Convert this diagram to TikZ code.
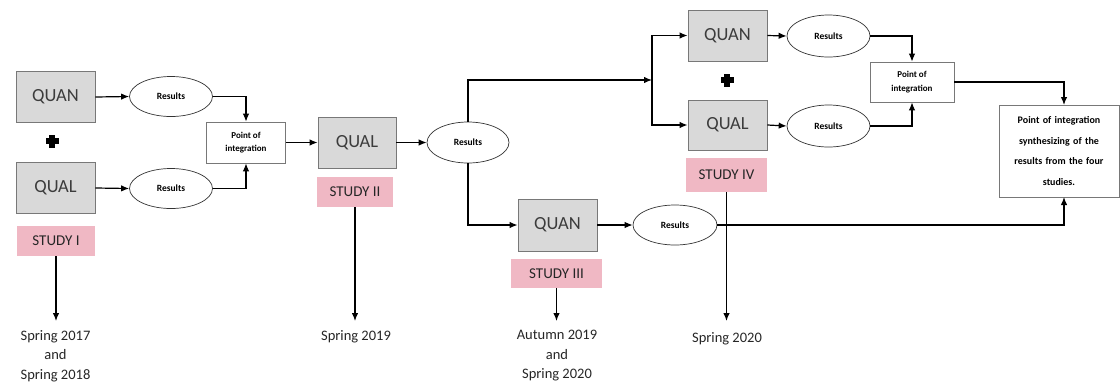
\documentclass[tikz,border=0pt]{standalone}
\usepackage{fontspec}
\setmainfont{Carlito}
\usetikzlibrary{arrows.meta,shapes.geometric}
\definecolor{boxgray}{RGB}{217,217,217}
\definecolor{boxedge}{RGB}{120,120,120}
\definecolor{studypink}{RGB}{240,184,196}
\definecolor{inktext}{RGB}{60,60,60}
\begin{document}
\begin{tikzpicture}[x=1pt,y=-1pt,
  method/.style={draw=boxedge, line width=0.8pt, fill=boxgray, minimum width=79pt,
    minimum height=51pt, inner sep=0pt, text=inktext, font=\fontsize{18.5}{18.5}\selectfont},
  study/.style={fill=studypink, minimum width=78pt, minimum height=30pt, inner sep=0pt,
    text=black!85, font=\fontsize{15}{15}\selectfont},
  res/.style={ellipse, draw=black!80, line width=0.7pt, fill=white, minimum width=83pt,
    minimum height=40pt, inner sep=0pt, font=\bfseries\fontsize{9.5}{10}\selectfont},
  poi/.style={draw=boxedge, line width=0.7pt, fill=white, minimum width=79pt,
    minimum height=41pt, inner sep=0pt, align=center,
    font=\bfseries\fontsize{9}{13.5}\selectfont},
  finbox/.style={draw=boxedge, line width=0.7pt, fill=white, minimum width=120pt,
    minimum height=92pt, inner sep=0pt, align=center, text width=116pt,
    font=\bfseries\fontsize{10}{20.5}\selectfont},
  datelbl/.style={align=center, inner sep=0pt, text=black!85,
    font=\fontsize{14.5}{19.5}\selectfont},
  arr/.style={-{Latex[length=8pt,width=6.5pt]}, line width=1.2pt},
  plussign/.pic={\fill (-6.5,-2.6) rectangle (6.5,2.6); \fill (-2.6,-6.5) rectangle (2.6,6.5);}
]
\useasboundingbox (0,0) rectangle (1120,389);

% Study I
\node[method] (q1) at (55.5,97) {QUAN};
\node[method] (l1) at (55.5,188) {QUAL};
\node[study]  (s1) at (56,241) {STUDY I};
\pic at (52,141) {plussign};
\node[res] (r1a) at (171,96.5) {Results};
\node[res] (r1b) at (171,188.5) {Results};
\node[poi] (p1) at (246,142.5) {Point of\\integration};
\draw[arr] (q1.east) -- (r1a.west);
\draw[arr] (l1.east) -- (r1b.west);
\draw[arr] (r1a.east) -| (p1.north);
\draw[arr] (r1b.east) -| (p1.south);

% Study II
\node[method, minimum width=78pt] (q2) at (357,142.5) {QUAL};
\node[study, minimum width=76pt] (s2) at (355,192) {STUDY II};
\node[res, minimum width=82pt, minimum height=41pt] (r2) at (468,142.5) {Results};
\draw[arr] (p1.east) -- (q2.west);
\draw[arr] (q2.east) -- (r2.west);

% Study III
\node[method, minimum height=52pt] (q3) at (557.5,225) {QUAN};
\node[study, minimum width=91pt, minimum height=29pt] (s3) at (556.5,273.5) {STUDY III};
\node[res, minimum width=84pt] (r3) at (675,225) {Results};
\draw[arr] (r2.south) |- (q3.west);
\draw[arr] (q3.east) -- (r3.west);

% Study IV
\node[method] (q4) at (727.5,35.5) {QUAN};
\node[method, minimum height=50pt] (l4) at (727.5,125) {QUAL};
\node[study, minimum width=81pt, minimum height=34pt] (s4) at (726.5,175) {STUDY IV};
\pic at (727,80) {plussign};
\node[res, minimum height=42pt] (r4a) at (828.5,36) {Results};
\node[res, minimum height=42pt] (r4b) at (828.5,126) {Results};
\node[poi, minimum width=84pt, minimum height=40pt] (p4) at (912,82) {Point of\\integration};
\coordinate (split) at (652,80);
\draw[arr] (r2.north) |- (split);
\draw[arr] (split) |- (q4.west);
\draw[arr] (split) |- (l4.west);
\draw[arr] (q4.east) -- (r4a.west);
\draw[arr] (l4.east) -- (r4b.west);
\draw[arr] (r4a.east) -| (p4.north);
\draw[arr] (r4b.east) -| (p4.south);

% Final synthesis
\node[finbox] (fin) at (1059,151) {Point of integration\\synthesizing of the\\results from the four\\studies.};
\coordinate (finin) at (1064,105);
\coordinate (finbot) at (1064,197);
\draw[arr] (p4.east) -| (finin);
\draw[arr] (r3.east) -| (finbot);

% Timeline
\node[datelbl, anchor=north] (d1) at (55.5,330) {Spring 2017\\and\\Spring 2018};
\node[datelbl, anchor=north] (d2) at (356,330) {Spring 2019};
\node[datelbl, anchor=north] (d3) at (557,330) {Autumn 2019\\and\\Spring 2020};
\node[datelbl, anchor=north] (d4) at (727,332) {Spring 2020};
\draw[arr, shorten >=9pt] (s1.south) -- (s1.south |- d1.north);
\draw[arr, shorten >=9pt] (s2.south) -- (s2.south |- d2.north);
\draw[arr, shorten >=9pt] (s3.south) -- (s3.south |- d3.north);
\draw[arr, shorten >=11pt] (s4.south) -- (s4.south |- d4.north);
\end{tikzpicture}
\end{document}
